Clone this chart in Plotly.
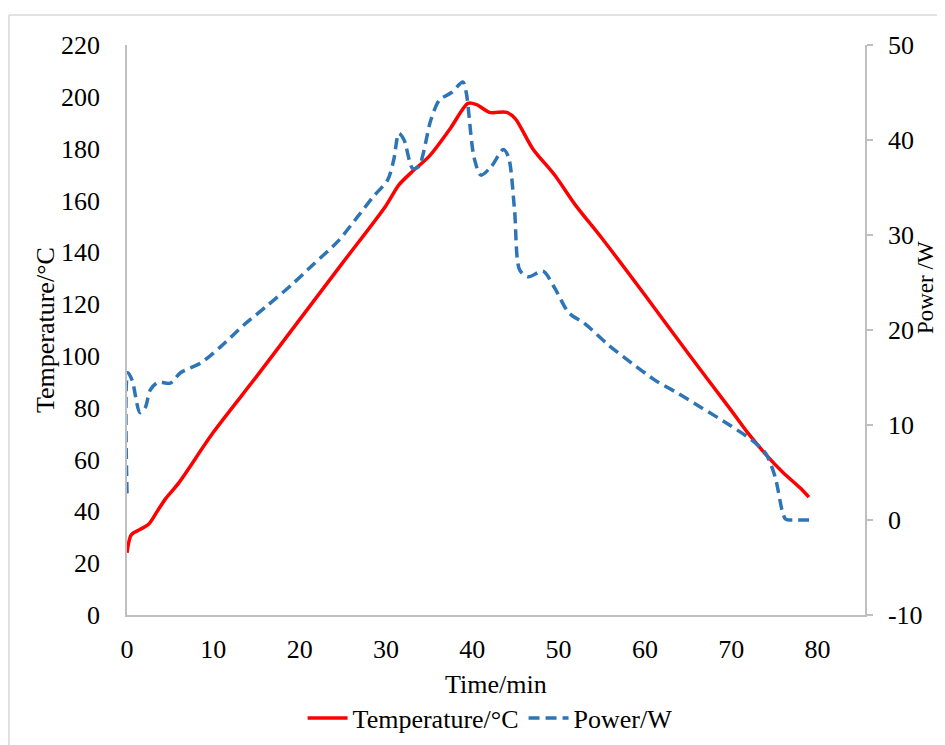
import plotly.graph_objects as go

# Temperature series
temp_time = [0, 0.5, 1.5, 2.5, 3.5, 4.5, 6, 10, 15, 20, 25, 30, 31.5, 33, 35, 37.5,
             39.5, 40.5, 42, 44, 45, 47, 49.5, 52, 55, 60, 65, 70, 72, 74, 76, 78, 79]
temp_vals = [24, 31, 33, 35, 40, 45, 51, 70.5, 92, 114, 136, 158, 166, 171, 177, 188,
             197.5, 197, 194, 194, 191.5, 180, 170, 158, 145.5, 123.5, 101, 79, 70, 62, 55, 49, 45.5]

# Power series
power_time = [0, 0.1, 0.6, 1.5, 2.1, 2.7, 3.6, 5, 6.2, 8.5, 10.8, 13.5, 16.3, 19, 21.7,
              24.4, 26.7, 28.5, 30.2, 30.9, 31.5, 32.1, 33.1, 33.8, 35.2, 36.2, 37.6,
              38.9, 39.3, 40.2, 41, 42.2, 43.6, 44.2, 44.9, 45.5, 46.5, 48.2, 49.5,
              51.2, 53, 55.8, 58.5, 61.2, 63.9, 66.6, 69.8, 72.4, 74, 75.1, 75.9,
              76.3, 77.5, 79.4]
power_vals = [2.8, 15.5, 14.7, 11.3, 11.8, 13.7, 14.5, 14.4, 15.5, 16.5, 18.2, 20.5, 22.6,
              24.7, 27, 29.3, 31.9, 34, 35.8, 37.9, 40.7, 40, 37, 37.2, 42.1, 44.2, 45,
              46.1, 45, 38.2, 36.3, 37.2, 39, 38.2, 32.6, 26.3, 25.6, 26.2, 24.5, 21.8,
              20.7, 18.4, 16.5, 14.7, 13.3, 11.8, 10, 8.4, 7, 4.5, 1, 0.1, 0, 0]

x_ticks = [0, 10, 20, 30, 40, 50, 60, 70, 80]
temp_ticks = list(range(0, 221, 20))
power_ticks = list(range(-10, 51, 10))
power_tick_text = [str(v) for v in power_ticks]

FONT = "Liberation Serif, Times New Roman, serif"
AXIS_COLOR = "#bfbfbf"

fig = go.Figure()
fig.add_trace(go.Scatter(
    x=temp_time, y=temp_vals, name="Temperature/°C", mode="lines",
    line=dict(color="#FF0000", width=3.5, shape="spline", smoothing=0.8),
))
fig.add_trace(go.Scatter(
    x=power_time, y=power_vals, name="Power/W", mode="lines", yaxis="y2",
    line=dict(color="#2E75B6", width=3.5, dash="11px,6px", shape="spline", smoothing=0.8),
))

# page body has an 8px margin, so the figure is 8px smaller and offset
fig.update_layout(
    width=937, height=737,
    margin=dict(l=119, r=80, t=37, b=130, autoexpand=False),
    paper_bgcolor="white", plot_bgcolor="white",
    font=dict(family=FONT, size=26, color="black"),
    showlegend=True,
    legend=dict(orientation="h", x=0.492, xanchor="center", y=-0.181, yanchor="middle",
                font=dict(size=26), itemwidth=40, bgcolor="rgba(0,0,0,0)"),
    xaxis=dict(range=[0, 85.5], tickvals=x_ticks, showline=True, linecolor=AXIS_COLOR,
               linewidth=1.5, showgrid=False, zeroline=False, ticks="",
               ticklabelstandoff=10, automargin=False),
    yaxis=dict(range=[0, 220], tickvals=temp_ticks, showline=True, linecolor=AXIS_COLOR,
               linewidth=1.5, showgrid=False, zeroline=False, ticks="",
               ticklabelstandoff=20, automargin=False),
    yaxis2=dict(range=[-10, 50], tickvals=power_ticks, ticktext=power_tick_text,
                overlaying="y", side="right",
                showline=True, linecolor=AXIS_COLOR, linewidth=1.5, showgrid=False,
                zeroline=False, ticks="outside", ticklen=6, tickcolor=AXIS_COLOR,
                tickwidth=1.5, ticklabelstandoff=10, automargin=False),
    annotations=[
        dict(text="Time/min", xref="paper", yref="paper", x=0.5, y=-0.1228,
             showarrow=False, xanchor="center", yanchor="middle", font=dict(size=26)),
        dict(text="Temperature/°C", xref="paper", yref="paper", x=-0.111, y=0.5,
             showarrow=False, textangle=-90, xanchor="center", yanchor="middle",
             font=dict(size=26)),
        dict(text="Power /W", xref="paper", yref="paper", x=1.081, y=0.575,
             showarrow=False, textangle=-90, xanchor="center", yanchor="middle",
             font=dict(size=23)),
    ],
    shapes=[
        dict(type="line", xref="paper", yref="paper", x0=-0.16, x1=1.2, y0=1.0526, y1=1.0526,
             line=dict(color="#d9d9d9", width=1.5)),
        dict(type="line", xref="paper", yref="paper", x0=-0.16, x1=-0.16, y0=-0.3, y1=1.0526,
             line=dict(color="#d9d9d9", width=1.5)),
    ],
)

fig.write_html("out.html")
